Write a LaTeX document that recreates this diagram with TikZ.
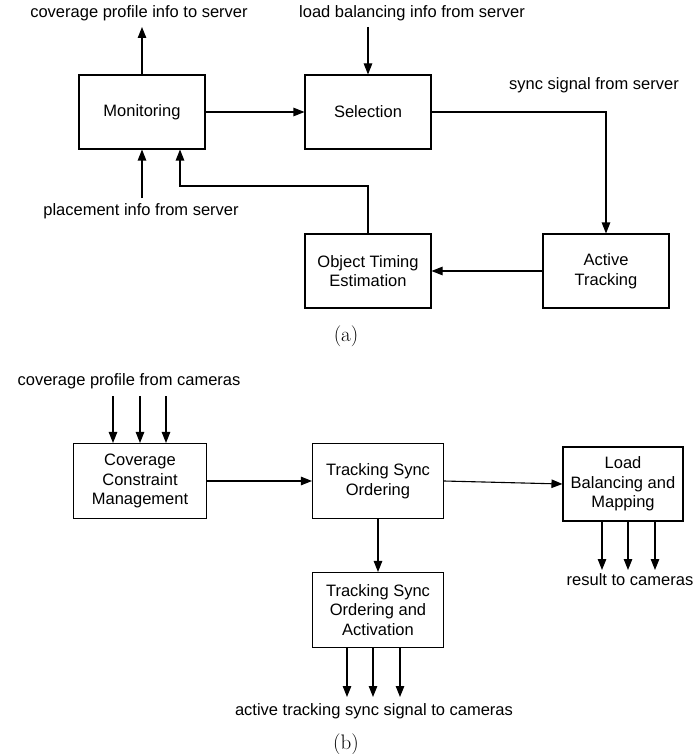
\documentclass[tikz,border=0pt]{standalone}
\usepackage{fontspec}
\setsansfont{Liberation Sans}
\usetikzlibrary{arrows.meta}
\newcommand{\blkfont}{\sffamily\fontsize{16.5pt}{19.5pt}\selectfont}
\newcommand{\capfont}{\rmfamily\fontsize{21pt}{24pt}\selectfont}

\begin{document}
\begin{tikzpicture}[x=1pt, y=-1pt, line width=1.1pt, >={Triangle[length=11pt,width=8.5pt]},
    block/.style={draw, align=center, inner sep=2pt, minimum width=126pt, minimum height=74pt, font=\blkfont},
    lbl/.style={font=\blkfont, inner sep=0pt, anchor=base},
    figcap/.style={font=\capfont, inner sep=0pt, anchor=base}]
    \useasboundingbox (0,0) rectangle (698,754);

    % (a)
    \node[block] (mon) at (142,112) {Monitoring};
    \node[block] (sel) at (368,112) {Selection};
    \node[block] (act) at (606,271) {Active\\Tracking};
    \node[block] (ote) at (368,271) {Object Timing\\Estimation};
    \node[lbl] (covout) at (139,18) {coverage profile info to server};
    \node[lbl] (lbin) at (412,18) {load balancing info from server};
    \node[lbl] (syncin) at (594,90) {sync signal from server};
    \node[lbl] (plcin) at (141,215) {placement info from server};
    \node[figcap] (capa) at (346,341) {(a)};
    \coordinate (covtip) at (142,27);
    \coordinate (lbstart) at (368,27);
    \coordinate (plcstart) at (142,198);
    \coordinate (fb) at (180,186);
    \draw[->] (mon.north) -- (covtip);
    \draw[->] (plcstart) -- (mon.south);
    \draw[->] (lbstart) -- (sel.north);
    \draw[->] (mon.east) -- (sel.west);
    \draw[->] (sel.east) -| (act.north);
    \draw[->] (act.west) -- (ote.east);
    \draw[->] (ote.north) |- (fb) -- (fb |- mon.south);

    % (b)
    \node[block, minimum width=133pt, minimum height=75pt] (ccm) at (140,481) {Coverage\\Constraint\\Management};
    \node[block, minimum width=131pt, minimum height=75pt] (tso) at (378,481) {Tracking Sync\\Ordering};
    \node[block, minimum width=120pt] (lbm) at (623,484) {Load\\Balancing and\\Mapping};
    \node[block, minimum width=131pt, minimum height=75pt] (tsa) at (378,610) {Tracking Sync\\Ordering and\\Activation};
    \node[lbl] (camin) at (129,385) {coverage profile from cameras};
    \node[lbl] (resout) at (630,585) {result to cameras};
    \node[lbl] (actout) at (374,715) {active tracking sync signal to cameras};
    \node[figcap] (capb) at (346,749) {(b)};
    \foreach \i/\x in {1/113,2/140,3/166} {
        \coordinate (cin\i) at (\x,396);
        \draw[->] (cin\i) -- (cin\i |- ccm.north);
    }
    \foreach \i/\x in {1/602,2/628,3/655} {
        \coordinate (rout\i) at (\x,570);
        \draw[->] (rout\i |- lbm.south) -- (rout\i);
    }
    \foreach \i/\x in {1/347,2/373,3/400} {
        \coordinate (aout\i) at (\x,697);
        \draw[->] (aout\i |- tsa.south) -- (aout\i);
    }
    \draw[->] (ccm.east) -- (tso.west);
    \draw[->] (tso.east) -- (lbm.west);
    \draw[->] (tso.south) -- (tsa.north);
\end{tikzpicture}
\end{document}
